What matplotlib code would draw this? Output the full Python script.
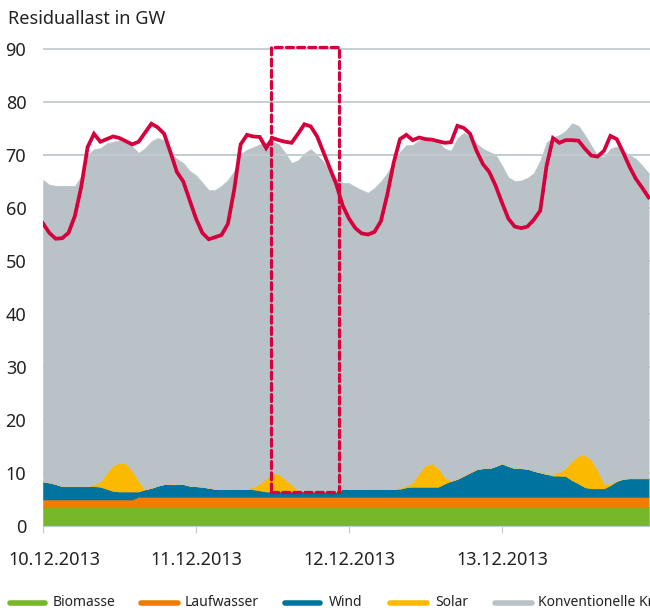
import matplotlib

matplotlib.use('Agg')
import matplotlib.pyplot as plt
import matplotlib.transforms as mtransforms
import numpy as np
from matplotlib.lines import Line2D
from matplotlib.patches import Rectangle

plt.rcParams['font.family'] = ['Noto Sans', 'DejaVu Sans']

# Stunden ab 10.12.2013 00:00
stunden = np.arange(96)
tage = ['10.12.2013', '11.12.2013', '12.12.2013', '13.12.2013']

biomasse = [3.5] * 96
laufwasser = [1.5] * 15 + [2.0] * 81
wind = [3.4, 3.2, 2.9, 2.5, 2.5, 2.5, 2.5, 2.5, 2.5, 2.4, 2.0, 1.6, 1.5, 1.5, 1.5, 1.0,
        1.4, 1.7, 2.1, 2.4, 2.4, 2.4, 2.4, 2.1, 2.0, 1.9, 1.7, 1.5, 1.5, 1.5, 1.5, 1.5,
        1.5, 1.4, 1.2, 1.0, 1.0, 1.0, 1.0, 1.0, 1.0, 1.0, 1.0, 1.0, 1.0, 1.0, 1.0, 1.5,
        1.5, 1.5, 1.5, 1.5, 1.5, 1.5, 1.5, 1.5, 1.5, 1.8, 1.9, 1.9, 1.9, 1.9, 1.9, 2.5,
        3.0, 3.4, 4.0, 4.6, 5.2, 5.4, 5.4, 5.8, 6.3, 5.8, 5.4, 5.4, 5.3, 4.9, 4.6, 4.3,
        4.0, 4.0, 3.9, 3.1, 2.5, 1.8, 1.6, 1.6, 1.6, 2.2, 3.0, 3.4, 3.5, 3.5, 3.5, 3.5]
solar = [0, 0, 0, 0, 0, 0, 0, 0, 0.4, 1.0, 3.0, 4.9, 5.4, 5.3, 3.9, 2.0,
         0, 0, 0, 0, 0, 0, 0, 0, 0, 0, 0, 0, 0, 0, 0, 0,
         0, 0.5, 1.3, 2.5, 3.5, 3.3, 2.3, 1.3, 0.2, 0, 0, 0, 0, 0, 0, 0,
         0, 0, 0, 0, 0, 0, 0, 0, 0.2, 0.3, 0.9, 2.6, 4.1, 4.4, 3.5, 1.2,
         0, 0, 0, 0, 0, 0, 0, 0, 0, 0, 0, 0, 0, 0, 0, 0,
         0.3, 0.7, 1.6, 3.7, 5.3, 6.1, 5.4, 3.4, 0.9, 0.3, 0, 0, 0, 0, 0, 0]
# obere Kante der gesamten Erzeugung (inkl. konventionelle Kraftwerke)
erzeugung_gesamt = [65.3, 64.4, 64.2, 64.2, 64.2, 64.2, 66.0, 70.0, 71.1, 71.3, 72.2, 72.5,
                    72.8, 72.3, 71.6, 70.4, 71.3, 72.6, 73.2, 72.8, 70.5, 69.3, 68.5, 67.0,
                    66.2, 64.8, 63.4, 63.4, 64.2, 65.3, 67.0, 70.2, 71.0, 71.5, 72.0, 72.4,
                    72.6, 72.0, 70.4, 68.5, 69.0, 70.3, 71.1, 70.0, 68.7, 67.0, 65.6, 64.8,
                    64.7, 64.0, 63.4, 62.9, 63.8, 65.0, 66.6, 68.8, 70.6, 71.9, 71.9, 72.8,
                    73.2, 73.0, 72.6, 71.2, 70.8, 73.2, 74.2, 73.5, 72.2, 71.2, 70.6, 70.1,
                    68.0, 65.8, 65.1, 65.2, 65.7, 66.6, 69.0, 72.4, 73.3, 73.8, 74.6, 76.0,
                    75.5, 73.8, 71.8, 69.8, 69.7, 71.2, 71.6, 70.8, 70.0, 69.3, 68.0, 66.6]
residuallast = [57.1, 55.3, 54.2, 54.3, 55.3, 58.5, 64.0, 71.5, 74.0, 72.5, 73.0, 73.5,
                73.2, 72.6, 72.0, 72.5, 74.2, 75.9, 75.2, 74.0, 70.5, 66.8, 65.0, 61.5,
                58.0, 55.3, 54.1, 54.5, 54.9, 57.0, 63.5, 72.0, 73.8, 73.5, 73.4, 71.3,
                73.2, 72.8, 72.5, 72.3, 74.0, 75.8, 75.4, 73.5, 70.5, 67.5, 64.5, 60.5,
                58.0, 56.2, 55.2, 55.0, 55.5, 57.5, 62.5, 68.5, 73.0, 73.8, 72.8, 73.3,
                73.0, 72.9, 72.6, 72.3, 72.4, 75.5, 75.1, 74.0, 70.8, 68.3, 66.8, 64.2,
                61.0, 58.0, 56.5, 56.2, 56.5, 57.8, 59.5, 68.0, 73.2, 72.3, 72.8, 72.8,
                72.7, 71.2, 69.9, 69.7, 70.8, 73.6, 73.0, 70.5, 67.8, 65.5, 63.8, 62.0]

konventionell = (np.array(erzeugung_gesamt) - np.array(biomasse) - np.array(laufwasser)
                 - np.array(wind) - np.array(solar))

namen = ['Biomasse', 'Laufwasser', 'Wind', 'Solar', 'Konventionelle Kraftwerke']
farben = ['#76b82a', '#ef7d00', '#00739e', '#fbb900', '#b9c3c7']
rot = '#d5003c'

# hervorgehobener Zeitraum (Stunden) und Höhe
markierung_von, markierung_bis = 35.7, 46.4
markierung_unten, markierung_oben = 6.4, 90.4

fig = plt.figure(figsize=(6.5, 6.11), dpi=100)
ax = fig.add_axes([43 / 650, 85 / 611, 607 / 650, 91 * 5.3 / 611])

ax.stackplot(stunden, biomasse, laufwasser, wind, solar, konventionell,
             colors=farben, linewidth=0.4, edgecolor='face', zorder=2)
ax.axhline(70, color='#c3ccd0', lw=1.3, zorder=3)
ax.plot(stunden, residuallast, color=rot, lw=2.7, zorder=5,
        solid_joinstyle='miter')
ax.add_patch(Rectangle((markierung_von, markierung_unten),
                       markierung_bis - markierung_von,
                       markierung_oben - markierung_unten,
                       fill=False, edgecolor=rot, lw=2.3, ls=(0, (2.2, 1.3)),
                       zorder=6, clip_on=False, capstyle='round'))

ax.set_xlim(0, 607 / 6.375)
ax.set_ylim(0, 91)
ax.set_yticks(range(0, 91, 10))
ax.set_xticks([0, 24, 48, 72])
ax.set_xticklabels(tage)
ax.yaxis.grid(True, color='#c3ccd0', lw=1.3, zorder=0)
ax.set_axisbelow(True)
for s in ['top', 'right', 'left']:
    ax.spines[s].set_visible(False)
ax.spines['bottom'].set_color('#c3ccd0')
ax.tick_params(axis='y', length=0, pad=12, labelsize=13, colors='#222222')
ax.tick_params(axis='x', length=5, color='#c3ccd0', pad=13, labelsize=13,
               labelcolor='#222222')
erste = ax.get_xticklabels()[0]
erste.set_transform(erste.get_transform() +
                    mtransforms.ScaledTranslation(11 / 100, 0, fig.dpi_scale_trans))

fig.text(8 / 650, 1 - 19 / 611, 'Residuallast in GW', fontsize=13,
         color='#222222', va='center', ha='left')

# Legende unten
linien_x = [(10, 45), (141, 178), (285, 320), (390, 427), (495, 532)]
text_x = [53, 185, 329, 435, 538]
ly = 1 - 603 / 611
for (x0, x1), tx, name, f in zip(linien_x, text_x, namen, farben):
    fig.add_artist(Line2D([x0 / 650, x1 / 650], [ly, ly], color=f, lw=4,
                          solid_capstyle='round', transform=fig.transFigure))
    fig.text(tx / 650, ly, name, fontsize=10, color='#222222', va='center', ha='left')

fig.savefig('out.png', dpi=100)
